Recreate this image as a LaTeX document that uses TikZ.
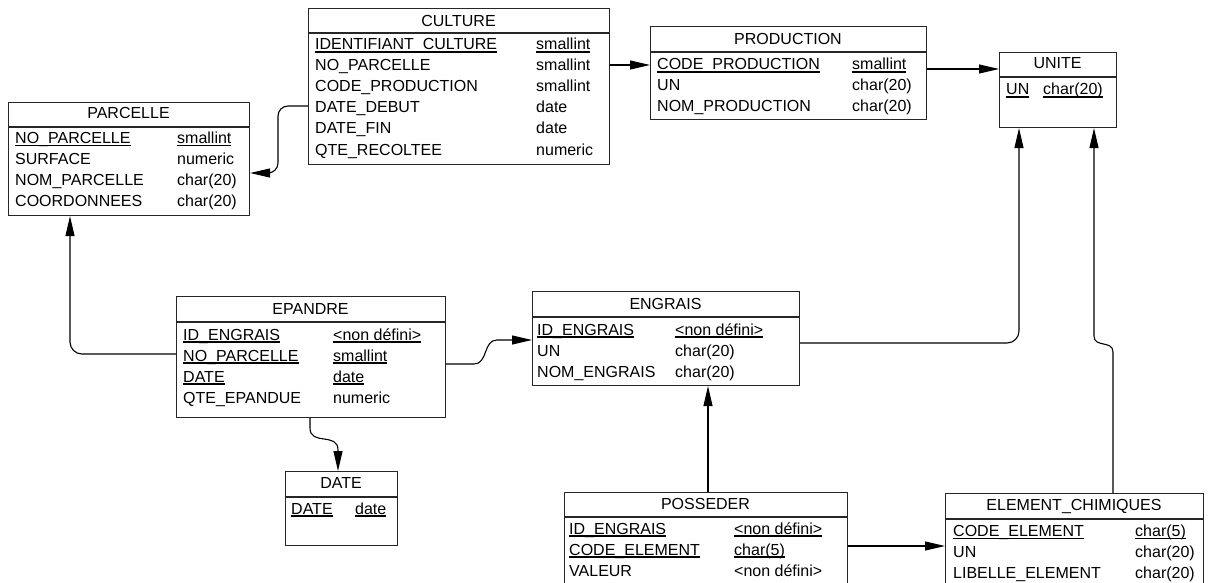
\documentclass[tikz,border=0pt]{standalone}
\usepackage{fontspec}
\setmainfont{Liberation Sans}
\usetikzlibrary{arrows.meta}
\newcommand\pkul[1]{\sbox0{#1}\rlap{\rule[-2.6pt]{\wd0}{1.3pt}}\usebox0}
\begin{document}
\begin{tikzpicture}[x=1pt,y=-1pt,
 tbl/.style={draw=black!85, line width=1.1pt, anchor=north west, inner sep=0pt, fill=white},
 hdr/.style={draw=black!85, line width=1.1pt},
 ttl/.style={anchor=base, inner sep=0pt, font=\fontsize{16}{19}\selectfont},
 fld/.style={anchor=base west, inner sep=0pt, font=\fontsize{16}{19}\selectfont},
 link/.style={draw=black, line width=1.1pt},
 arr/.style={link, -{Triangle[length=20pt,width=9pt]}}]
\useasboundingbox (0,0) rectangle (1212,583);
\clip (0,0) rectangle (1212,583);

% ---------- CULTURE
\node[tbl, minimum width=301pt, minimum height=156pt] (culture) at (308,8) {};
\draw[hdr] (culture.west |- 0,33) -- (culture.east |- 0,33);
\node[ttl] (cu0) at (458.5,26.2) {CULTURE};
\node[fld] (cu1a) at (315,50) {\pkul{IDENTIFIANT\_CULTURE}};
\node[fld] (cu1b) at (536,50) {\pkul{smallint}};
\node[fld] (cu2a) at (315,71) {NO\_PARCELLE};
\node[fld] (cu2b) at (536,71) {smallint};
\node[fld] (cu3a) at (315,92) {CODE\_PRODUCTION};
\node[fld] (cu3b) at (536,92) {smallint};
\node[fld] (cu4a) at (315,113) {DATE\_DEBUT};
\node[fld] (cu4b) at (536,113) {date};
\node[fld] (cu5a) at (315,134) {DATE\_FIN};
\node[fld] (cu5b) at (536,134) {date};
\node[fld] (cu6a) at (315,155) {QTE\_RECOLTEE};
\node[fld] (cu6b) at (536,155) {numeric};

% ---------- PARCELLE
\node[tbl, minimum width=241pt, minimum height=113pt] (parcelle) at (8,102) {};
\draw[hdr] (parcelle.west |- 0,127) -- (parcelle.east |- 0,127);
\node[ttl] (pa0) at (128.5,118.2) {PARCELLE};
\node[fld] (pa1a) at (15,143.2) {\pkul{NO\_PARCELLE}};
\node[fld] (pa1b) at (177,143.2) {\pkul{smallint}};
\node[fld] (pa2a) at (15,164.5) {SURFACE};
\node[fld] (pa2b) at (177,164.5) {numeric};
\node[fld] (pa3a) at (15,185.5) {NOM\_PARCELLE};
\node[fld] (pa3b) at (177,185.5) {char(20)};
\node[fld] (pa4a) at (15,206.5) {COORDONNEES};
\node[fld] (pa4b) at (177,206.5) {char(20)};

% ---------- PRODUCTION
\node[tbl, minimum width=276pt, minimum height=93pt] (production) at (650,26) {};
\draw[hdr] (production.west |- 0,52) -- (production.east |- 0,52);
\node[ttl] (pr0) at (788,44.8) {PRODUCTION};
\node[fld] (pr1a) at (657,70) {\pkul{CODE\_PRODUCTION}};
\node[fld] (pr1b) at (852,70) {\pkul{smallint}};
\node[fld] (pr2a) at (657,91) {UN};
\node[fld] (pr2b) at (852,91) {char(20)};
\node[fld] (pr3a) at (657,112) {NOM\_PRODUCTION};
\node[fld] (pr3b) at (852,112) {char(20)};

% ---------- UNITE
\node[tbl, minimum width=117pt, minimum height=75pt] (unite) at (999,52) {};
\draw[hdr] (unite.west |- 0,77) -- (unite.east |- 0,77);
\node[ttl] (un0) at (1057.5,68.8) {UNITE};
\node[fld] (un1a) at (1006,95) {\pkul{UN}};
\node[fld] (un1b) at (1043,95) {\pkul{char(20)}};

% ---------- EPANDRE
\node[tbl, minimum width=269pt, minimum height=121pt] (epandre) at (176,296) {};
\draw[hdr] (epandre.west |- 0,322) -- (epandre.east |- 0,322);
\node[ttl] (ep0) at (310.5,314.8) {EPANDRE};
\node[fld] (ep1a) at (183,340) {\pkul{ID\_ENGRAIS}};
\node[fld] (ep1b) at (333,340) {\pkul{<non défini>}};
\node[fld] (ep2a) at (183,361) {\pkul{NO\_PARCELLE}};
\node[fld] (ep2b) at (333,361) {\pkul{smallint}};
\node[fld] (ep3a) at (183,382) {\pkul{DATE}};
\node[fld] (ep3b) at (333,382) {\pkul{date}};
\node[fld] (ep4a) at (183,403) {QTE\_EPANDUE};
\node[fld] (ep4b) at (333,403) {numeric};

% ---------- ENGRAIS
\node[tbl, minimum width=267pt, minimum height=94pt] (engrais) at (532,291) {};
\draw[hdr] (engrais.west |- 0,317) -- (engrais.east |- 0,317);
\node[ttl] (en0) at (665.5,309.8) {ENGRAIS};
\node[fld] (en1a) at (537,335) {\pkul{ID\_ENGRAIS}};
\node[fld] (en1b) at (675,335) {\pkul{<non défini>}};
\node[fld] (en2a) at (537,356) {UN};
\node[fld] (en2b) at (675,356) {char(20)};
\node[fld] (en3a) at (537,377) {NOM\_ENGRAIS};
\node[fld] (en3b) at (675,377) {char(20)};

% ---------- DATE
\node[tbl, minimum width=112pt, minimum height=74pt] (date) at (285,471) {};
\draw[hdr] (date.west |- 0,497) -- (date.east |- 0,497);
\node[ttl] (da0) at (341,488.8) {DATE};
\node[fld] (da1a) at (291,514) {\pkul{DATE}};
\node[fld] (da1b) at (355,514) {\pkul{date}};

% ---------- POSSEDER
\node[tbl, minimum width=283pt, minimum height=120pt] (posseder) at (564,492) {};
\draw[hdr] (posseder.west |- 0,517) -- (posseder.east |- 0,517);
\node[ttl] (po0) at (705.5,509.5) {POSSEDER};
\node[fld] (po1a) at (569,534) {\pkul{ID\_ENGRAIS}};
\node[fld] (po1b) at (734,534) {\pkul{<non défini>}};
\node[fld] (po2a) at (569,555) {\pkul{CODE\_ELEMENT}};
\node[fld] (po2b) at (734,555) {\pkul{char(5)}};
\node[fld] (po3a) at (569,576) {VALEUR};
\node[fld] (po3b) at (734,576) {<non défini>};

% ---------- ELEMENT_CHIMIQUES
\node[tbl, minimum width=258pt, minimum height=120pt] (element) at (945,493) {};
\draw[hdr] (element.west |- 0,519) -- (element.east |- 0,519);
\node[ttl] (el0) at (1074,510.5) {ELEMENT\_CHIMIQUES};
\node[fld] (el1a) at (953,536.5) {\pkul{CODE\_ELEMENT}};
\node[fld] (el1b) at (1135,536.5) {\pkul{char(5)}};
\node[fld] (el2a) at (953,557.5) {UN};
\node[fld] (el2b) at (1135,557.5) {char(20)};
\node[fld] (el3a) at (953,578.5) {LIBELLE\_ELEMENT};
\node[fld] (el3b) at (1135,578.5) {char(20)};

% ---------- connectors
\draw[arr] (culture.east |- 0,65) -- (production.west |- 0,65);
\draw[arr] (production.east |- 0,69) -- (unite.west |- 0,69);
\draw[arr, rounded corners=10pt] (culture.west |- 0,106) -- (278,106) -- (278,173) -- (parcelle.east |- 0,173);
\draw[arr, rounded corners=12pt] (epandre.west |- 0,354) -| (parcelle.south -| 70,0);
\draw[arr] (epandre.east |- 0,364) -- (474,364) .. controls (488,364) and (483,340) .. (497,340) -- (engrais.west |- 0,340);
\draw[arr] (epandre.south -| 310,0) -- (310,428) .. controls (310,446) and (338,432) .. (338,450) -- (date.north -| 338,0);
\draw[arr, rounded corners=12pt] (engrais.east |- 0,343) -| (unite.south -| 1019,0);
\draw[arr] (element.north -| 1113,0) -- (1113,352) .. controls (1113,340) and (1094,348) .. (1094,336) -- (unite.south -| 1094,0);
\draw[arr] (posseder.north -| 708,0) -- (engrais.south -| 708,0);
\draw[arr] (posseder.east |- 0,546) -- (element.west |- 0,546);
\end{tikzpicture}
\end{document}
